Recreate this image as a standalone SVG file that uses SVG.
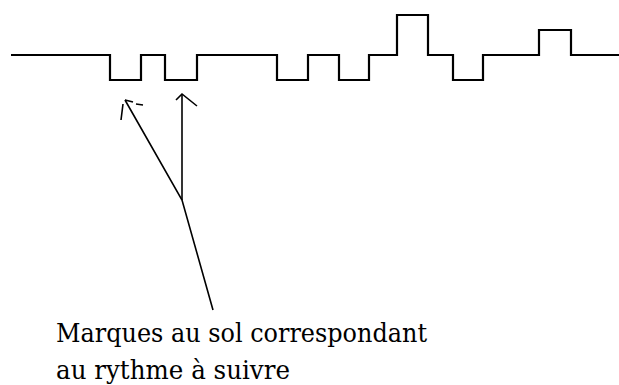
<svg xmlns="http://www.w3.org/2000/svg" width="619" height="385" viewBox="0 0 619 385">
<style>
.ground{fill:none;stroke:#000;stroke-width:2.2}
.arr{fill:none;stroke:#000;stroke-width:1.6}
.lbl{font-family:'DejaVu Serif','Liberation Serif',serif;font-size:26px;fill:#000}
</style>
<rect width="619" height="385" fill="#fff"/>
<g id="ground">
<path class="ground" d="M11,55 H110 V80 H141 V55 H165 V80 H197 V55 H277 V80 H308 V55 H339 V80 H369 V55 H397 V15 H428 V55 H453 V80 H483 V55 H539 V30 H571 V55 H619"/>
</g>
<g id="connectors">
<path class="arr" d="M213,310 L182,200 L125,100"/>
<path class="arr" d="M121,120 L123,104 M125,100 L133,102 M136,104 L143,105"/>
<path class="arr" d="M182,200 V94"/>
<path class="arr" d="M176,100 L182,94 L197,106"/>
</g>
<g id="label">
<text class="lbl" x="56" y="342" textLength="371" lengthAdjust="spacingAndGlyphs">Marques au sol correspondant</text>
<text class="lbl" x="56" y="379" textLength="234" lengthAdjust="spacingAndGlyphs">au rythme à suivre</text>
</g>
</svg>
